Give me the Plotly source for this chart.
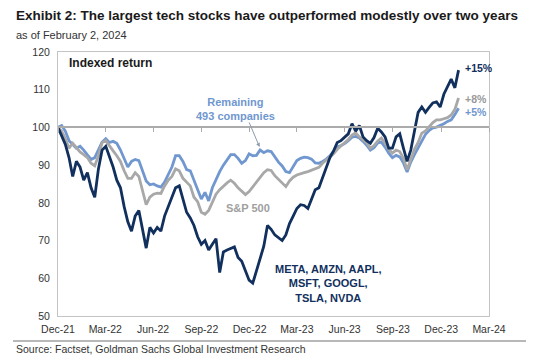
import plotly.graph_objects as go
import pandas as pd

# ---------------- data (weekly, indexed to 100 at 31-Dec-2021) ----------------
dates = pd.date_range("2021-12-31", periods=110, freq="7D")

tech7 = [
    100.0, 97.5, 95.5, 92.0, 87.0, 91.0, 89.5, 86.0, 88.0, 84.0,
    81.5, 89.0, 94.0, 95.0, 92.5, 89.5, 86.0, 84.0, 79.0, 75.0,
    72.5, 76.5, 78.0, 73.0, 68.0, 73.5, 72.0, 73.5, 72.5, 76.5,
    79.0, 81.0, 84.0, 84.5, 81.0, 77.5, 76.0, 74.0, 71.0, 69.0,
    70.0, 67.5, 69.0, 70.5, 61.5, 67.0, 67.5, 68.0, 68.3, 65.5,
    64.5, 62.0, 59.5, 58.7, 62.0, 65.0, 68.5, 74.0, 73.0, 71.5,
    70.8, 70.0, 71.5, 74.5, 76.5, 78.5, 79.5, 79.3, 78.5, 81.0,
    83.5, 84.0, 86.8, 89.5, 92.0, 93.8, 96.0, 96.5, 97.5, 98.3,
    101.0, 99.0, 100.5, 97.5, 96.5, 95.8, 97.3, 99.8, 98.8, 97.5,
    94.5, 94.5, 97.5, 98.3, 94.5, 91.0, 94.0, 99.3, 104.0, 105.4,
    104.0, 105.3, 106.5, 106.8, 105.4, 108.8, 111.0, 112.8, 110.5, 115.2,
]

sp500 = [
    100.0, 99.0, 97.0, 94.5, 95.8, 94.5, 93.5, 92.8, 92.0, 90.5,
    89.8, 92.5, 96.0, 96.5, 95.0, 93.8, 92.5, 91.0, 88.5, 86.5,
    86.5, 88.0, 87.0, 83.5, 79.5, 81.5, 82.3, 82.6, 82.5, 84.5,
    86.0, 87.0, 89.0, 88.5, 86.5, 85.5, 84.5, 81.5, 80.3, 77.5,
    77.0, 78.0, 80.0, 82.3, 83.5, 84.5, 85.3, 86.0, 85.2, 84.0,
    83.0, 82.2, 83.0, 84.2, 85.4, 86.8, 88.0, 88.8, 88.6, 87.2,
    86.2, 85.4, 84.3, 85.8, 86.8, 87.4, 87.8, 88.0, 88.3, 88.7,
    89.0, 89.4, 90.5, 91.3, 92.0, 93.0, 94.2, 95.0, 95.8, 96.8,
    98.0, 98.6, 97.5, 96.8, 95.9, 94.5, 95.2, 96.4, 97.2, 95.8,
    94.2, 93.2, 94.0, 93.6, 91.8, 88.8, 91.5, 94.2, 96.0, 98.5,
    99.1, 100.3, 101.3, 102.0, 102.0, 102.3, 102.6, 103.3, 104.8, 107.8,
]

rest493 = [
    100.0, 100.5, 99.0, 96.5, 95.5, 94.5, 95.0, 94.0, 92.7, 91.5,
    92.0, 94.0, 96.1, 97.0, 96.0, 96.3, 95.8, 94.0, 91.5, 89.5,
    91.0, 91.5, 91.2, 88.5, 85.8, 84.8, 85.0, 84.5, 84.2, 85.5,
    87.5, 89.5, 92.5, 92.5, 91.0, 88.8, 88.5, 86.0, 83.8, 81.0,
    82.8, 80.5, 84.0, 86.3, 88.3, 90.0, 91.4, 92.8, 92.8, 91.8,
    90.5, 91.2, 93.0, 92.5, 92.6, 94.0, 93.3, 93.8, 93.6, 92.2,
    90.8, 89.8, 88.3, 88.0, 89.6, 91.2, 91.8, 92.1, 92.0, 91.6,
    90.6, 90.5, 91.0, 91.6, 92.5, 93.8, 94.8, 95.2, 95.7, 96.5,
    97.4, 97.6, 97.2, 96.3, 95.3, 94.0, 94.6, 95.9, 96.1, 94.8,
    93.2, 92.0, 92.6, 92.2, 90.6, 88.2, 90.8, 92.8, 94.6, 96.7,
    98.2, 99.2, 99.9, 100.1, 100.5, 101.0, 101.6, 102.0, 103.4, 105.1,
]

tick_dates = ["2021-12-31", "2022-03-31", "2022-06-30", "2022-09-30", "2022-12-31",
              "2023-03-31", "2023-06-30", "2023-09-30", "2023-12-31", "2024-03-31"]
tick_labels = ["Dec-21", "Mar-22", "Jun-22", "Sep-22", "Dec-22",
               "Mar-23", "Jun-23", "Sep-23", "Dec-23", "Mar-24"]

end_labels = ["+15%", "+8%", "+5%"]

# ---------------- styling ----------------
DARK = "#11305e"
BLUE = "#7097cf"
GRAY = "#a8a8a8"
FONT = "Arial, Liberation Sans, sans-serif"

W, H = 536, 357
L, R, T, B = 58, 47, 52, 41
PW, PH = W - L - R, H - T - B


def px(xp, yp):
    return (xp - L) / PW, (H - B - yp) / PH


fig = go.Figure()
for name, ys, col in [("Remaining 493 companies", rest493, BLUE),
                      ("S&P 500", sp500, GRAY),
                      ("META, AMZN, AAPL, MSFT, GOOGL, TSLA, NVDA", tech7, DARK)]:
    fig.add_trace(go.Scatter(x=dates, y=ys, mode="lines", name=name,
                             line=dict(color=col, width=2.8), showlegend=False))

# dummy trace so the 100-line axis (with quarter ticks) is drawn
fig.add_trace(go.Scatter(x=[dates[0]], y=[100], mode="lines", xaxis="x2",
                         showlegend=False, hoverinfo="skip"))

xrange = ["2021-12-31", "2024-03-31"]
fig.update_layout(
    width=W, height=H,
    margin=dict(l=L, r=R, t=T, b=B),
    paper_bgcolor="white", plot_bgcolor="white",
    font=dict(family=FONT, color="#333333", size=10),
    xaxis=dict(range=xrange, tickvals=tick_dates, ticktext=tick_labels,
               showgrid=False, zeroline=False, showline=True, mirror=True,
               linecolor="#c4c4c4", linewidth=1, ticks="", ticklabelstandoff=3,
               tickfont=dict(size=10.5, color="#333333")),
    xaxis2=dict(range=xrange, tickvals=tick_dates, overlaying="x", anchor="free",
                position=(100 - 50) / (120 - 50), showticklabels=False,
                showgrid=False, zeroline=False, showline=True, linecolor="#ababab",
                linewidth=1.5, ticks="outside", ticklen=4, tickcolor="#ababab",
                tickwidth=1),
    yaxis=dict(range=[50, 120], dtick=10, showgrid=False, zeroline=False,
               showline=True, mirror=True, linecolor="#c4c4c4", linewidth=1,
               ticks="", ticklabelstandoff=5,
               tickfont=dict(size=10.5, color="#333333")),
)

ann = []
tx, ty = px(14, 16)
ann.append(dict(text="<b>Exhibit 2: The largest tech stocks have outperformed modestly over two years</b>",
                x=tx, y=ty, xref="paper", yref="paper", xanchor="left", yanchor="middle",
                showarrow=False, font=dict(size=13.5, color="#1a1a1a")))
sx, sy = px(14, 35)
ann.append(dict(text="as of February 2, 2024", x=sx, y=sy, xref="paper", yref="paper",
                xanchor="left", yanchor="middle", showarrow=False,
                font=dict(size=11, color="#333333")))
ix, iy = px(67, 63)
ann.append(dict(text="<b>Indexed return</b>", x=ix, y=iy, xref="paper", yref="paper",
                xanchor="left", yanchor="middle", showarrow=False,
                font=dict(size=12, color="#1a1a1a")))
qx, qy = px(14, 349)
ann.append(dict(text="Source: Factset, Goldman Sachs Global Investment Research",
                x=qx, y=qy, xref="paper", yref="paper", xanchor="left", yanchor="middle",
                showarrow=False, font=dict(size=10.5, color="#333333")))

# series labels
ann.append(dict(text="<b>Remaining<br>493 companies</b>", x="2022-12-05", y=105.0,
                xanchor="center", yanchor="middle", showarrow=False,
                font=dict(size=11, color=BLUE)))
ann.append(dict(text="", x="2023-01-19", y=94.8, ax="2022-12-29", ay=101.7,
                axref="x", ayref="y", showarrow=True, arrowhead=2, arrowsize=0.8,
                arrowwidth=1, arrowcolor="#8c9bb0"))
ann.append(dict(text="<b>S&P 500</b>", x="2022-12-27", y=78.6, xanchor="center",
                yanchor="middle", showarrow=False, font=dict(size=11, color="#a0a0a0")))
ann.append(dict(text="<b>META, AMZN, AAPL,<br>MSFT, GOOGL,<br>TSLA, NVDA</b>",
                x="2023-05-30", y=58.7, xanchor="center", yanchor="middle",
                showarrow=False, font=dict(size=11, color=DARK)))
for txt, yv, col in zip(end_labels, [115.8, 107.5, 104.1], [DARK, "#999999", BLUE]):
    ann.append(dict(text=f"<b>{txt}</b>", x="2024-02-10", y=yv, xanchor="left",
                    yanchor="middle", showarrow=False, font=dict(size=10.5, color=col)))

fig.update_layout(annotations=ann)

lx0, ly = px(13, 341)
lx1, _ = px(526, 341)
fig.add_shape(type="line", xref="paper", yref="paper", x0=lx0, x1=lx1, y0=ly, y1=ly,
              line=dict(color="#a0a0a0", width=1.5))

fig.write_html("out.html", config={"displayModeBar": False},
               post_script="document.body.style.margin='0';document.body.style.overflow='hidden';")
